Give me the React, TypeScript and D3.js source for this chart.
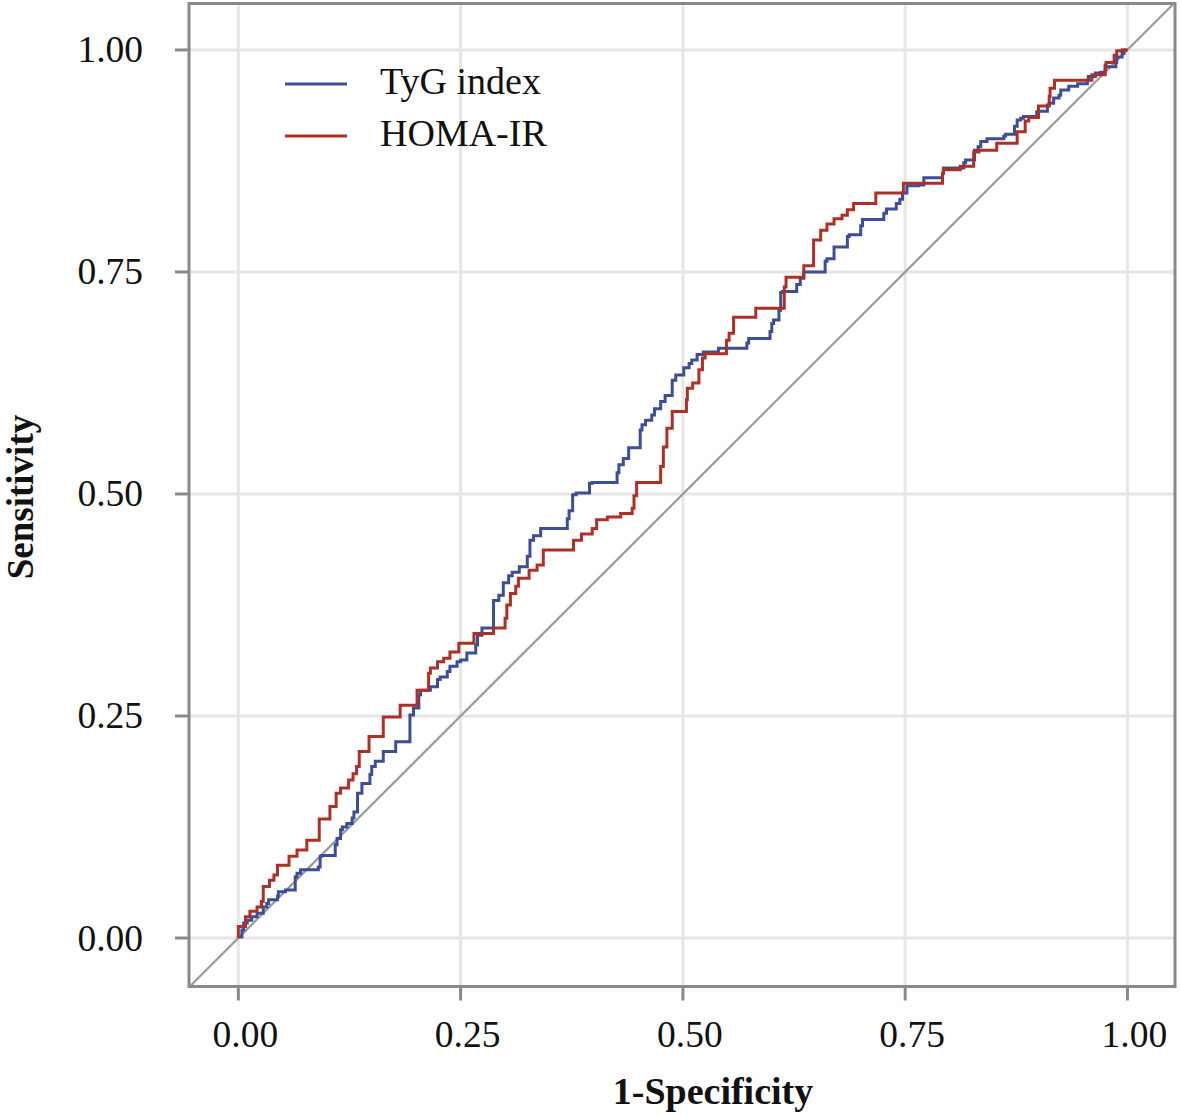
import React from "react";
import * as d3 from "d3";

const tickValues = [0, 0.25, 0.5, 0.75, 1];
const tickLabels = ["0.00", "0.25", "0.50", "0.75", "1.00"];
const seriesNames = ["TyG index", "HOMA-IR"];
const seriesColors = ["#3C4E98", "#AE2F26"];
const xTitle = "1-Specificity";
const yTitle = "Sensitivity";

const tygFpr = [0, 0.004, 0.006, 0.010, 0.015, 0.021, 0.028, 0.032, 0.034, 0.044, 0.045, 0.053, 0.064, 0.066, 0.070, 0.072, 0.090, 0.092, 0.094, 0.109, 0.111, 0.115, 0.117, 0.122, 0.128, 0.130, 0.134, 0.134, 0.139, 0.141, 0.148, 0.150, 0.154, 0.156, 0.163, 0.163, 0.177, 0.177, 0.193, 0.193, 0.197, 0.203, 0.205, 0.216, 0.224, 0.227, 0.235, 0.238, 0.246, 0.250, 0.257, 0.267, 0.269, 0.274, 0.276, 0.287, 0.287, 0.293, 0.298, 0.304, 0.308, 0.316, 0.325, 0.328, 0.332, 0.340, 0.349, 0.370, 0.372, 0.376, 0.380, 0.381, 0.395, 0.398, 0.426, 0.428, 0.433, 0.439, 0.441, 0.452, 0.454, 0.458, 0.465, 0.468, 0.475, 0.480, 0.488, 0.492, 0.501, 0.507, 0.510, 0.516, 0.523, 0.540, 0.540, 0.572, 0.574, 0.582, 0.598, 0.600, 0.602, 0.608, 0.610, 0.612, 0.628, 0.632, 0.636, 0.642, 0.660, 0.662, 0.670, 0.670, 0.685, 0.687, 0.700, 0.702, 0.703, 0.726, 0.729, 0.740, 0.744, 0.747, 0.752, 0.765, 0.771, 0.775, 0.792, 0.793, 0.816, 0.818, 0.828, 0.832, 0.835, 0.842, 0.861, 0.863, 0.873, 0.876, 0.880, 0.883, 0.898, 0.899, 0.910, 0.912, 0.917, 0.923, 0.925, 0.934, 0.944, 0.955, 0.956, 0.964, 0.970, 0.975, 0.976, 0.987, 0.988, 0.994, 0.996, 1];
const tygTpr = [0, 0.001, 0.009, 0.017, 0.020, 0.024, 0.028, 0.035, 0.039, 0.043, 0.047, 0.052, 0.054, 0.069, 0.073, 0.077, 0.077, 0.080, 0.092, 0.093, 0.105, 0.112, 0.122, 0.125, 0.129, 0.135, 0.142, 0.157, 0.163, 0.174, 0.174, 0.184, 0.193, 0.199, 0.199, 0.210, 0.210, 0.221, 0.221, 0.245, 0.251, 0.259, 0.274, 0.279, 0.283, 0.291, 0.294, 0.300, 0.306, 0.311, 0.313, 0.321, 0.330, 0.341, 0.349, 0.349, 0.373, 0.380, 0.386, 0.400, 0.408, 0.412, 0.418, 0.430, 0.448, 0.453, 0.461, 0.461, 0.472, 0.481, 0.499, 0.501, 0.501, 0.512, 0.513, 0.524, 0.533, 0.540, 0.552, 0.552, 0.572, 0.578, 0.583, 0.589, 0.596, 0.604, 0.611, 0.628, 0.634, 0.642, 0.647, 0.651, 0.657, 0.660, 0.664, 0.664, 0.670, 0.675, 0.675, 0.683, 0.692, 0.696, 0.707, 0.727, 0.728, 0.736, 0.743, 0.750, 0.750, 0.762, 0.765, 0.776, 0.778, 0.790, 0.792, 0.802, 0.809, 0.809, 0.816, 0.821, 0.827, 0.832, 0.839, 0.847, 0.848, 0.856, 0.856, 0.861, 0.867, 0.873, 0.876, 0.887, 0.891, 0.897, 0.900, 0.903, 0.905, 0.914, 0.921, 0.923, 0.925, 0.930, 0.931, 0.938, 0.940, 0.946, 0.949, 0.955, 0.959, 0.962, 0.966, 0.970, 0.974, 0.975, 0.981, 0.981, 0.986, 0.992, 0.996, 1];

const homaFpr = [0, 0.001, 0.008, 0.008, 0.013, 0.013, 0.021, 0.021, 0.026, 0.026, 0.028, 0.028, 0.035, 0.035, 0.040, 0.040, 0.044, 0.044, 0.057, 0.057, 0.066, 0.066, 0.077, 0.077, 0.091, 0.091, 0.093, 0.103, 0.103, 0.105, 0.110, 0.110, 0.115, 0.115, 0.124, 0.124, 0.129, 0.129, 0.133, 0.133, 0.136, 0.137, 0.147, 0.147, 0.163, 0.163, 0.173, 0.182, 0.182, 0.201, 0.201, 0.214, 0.216, 0.224, 0.231, 0.238, 0.248, 0.252, 0.265, 0.267, 0.287, 0.287, 0.300, 0.302, 0.306, 0.312, 0.315, 0.327, 0.336, 0.343, 0.353, 0.377, 0.377, 0.386, 0.398, 0.403, 0.415, 0.430, 0.432, 0.443, 0.445, 0.448, 0.460, 0.475, 0.478, 0.482, 0.488, 0.493, 0.504, 0.505, 0.511, 0.518, 0.522, 0.525, 0.533, 0.549, 0.552, 0.557, 0.563, 0.582, 0.582, 0.595, 0.614, 0.616, 0.623, 0.636, 0.636, 0.647, 0.647, 0.655, 0.662, 0.670, 0.679, 0.685, 0.692, 0.696, 0.717, 0.717, 0.748, 0.748, 0.765, 0.792, 0.793, 0.812, 0.812, 0.827, 0.833, 0.853, 0.876, 0.885, 0.889, 0.900, 0.902, 0.912, 0.913, 0.918, 0.923, 0.960, 0.962, 0.975, 0.976, 0.985, 0.988, 0.994, 1];
const homaTpr = [0, 0.013, 0.013, 0.024, 0.024, 0.030, 0.030, 0.035, 0.035, 0.041, 0.041, 0.058, 0.058, 0.065, 0.065, 0.071, 0.071, 0.082, 0.082, 0.092, 0.092, 0.099, 0.099, 0.110, 0.110, 0.122, 0.134, 0.134, 0.140, 0.148, 0.148, 0.163, 0.163, 0.169, 0.169, 0.178, 0.178, 0.185, 0.185, 0.193, 0.193, 0.210, 0.210, 0.227, 0.227, 0.245, 0.249, 0.249, 0.262, 0.262, 0.279, 0.279, 0.298, 0.304, 0.311, 0.315, 0.322, 0.332, 0.332, 0.343, 0.343, 0.349, 0.349, 0.360, 0.375, 0.388, 0.396, 0.405, 0.414, 0.420, 0.437, 0.437, 0.443, 0.448, 0.455, 0.461, 0.471, 0.474, 0.478, 0.478, 0.484, 0.498, 0.513, 0.513, 0.531, 0.553, 0.574, 0.593, 0.593, 0.606, 0.619, 0.625, 0.640, 0.653, 0.658, 0.658, 0.673, 0.681, 0.699, 0.699, 0.703, 0.709, 0.709, 0.733, 0.744, 0.744, 0.757, 0.757, 0.779, 0.786, 0.797, 0.804, 0.810, 0.814, 0.820, 0.827, 0.827, 0.839, 0.839, 0.844, 0.850, 0.850, 0.861, 0.865, 0.869, 0.869, 0.885, 0.887, 0.895, 0.908, 0.920, 0.924, 0.937, 0.937, 0.948, 0.957, 0.966, 0.966, 0.972, 0.972, 0.983, 0.986, 0.994, 0.999, 1];

const W = 1180;
const H = 1115;
const panel = { left: 189, right: 1175, top: 3.5, bottom: 986.5 };
const FONT = "'Liberation Serif', 'Times New Roman', serif";

export default function App() {
  const x = d3.scaleLinear().domain([-0.0555, 1.0535]).range([panel.left, panel.right]);
  const y = d3.scaleLinear().domain([-0.0546, 1.0523]).range([panel.bottom, panel.top]);

  const series = [
    { fpr: tygFpr, tpr: tygTpr },
    { fpr: homaFpr, tpr: homaTpr },
  ];

  const line = d3
    .line<[number, number]>()
    .x((d) => x(d[0]))
    .y((d) => y(d[1]))
    .curve(d3.curveStepBefore);

  const diag = d3
    .line<number>()
    .x((d) => x(d))
    .y((d) => y(d));
  const diagDomain = [x.domain()[0], Math.min(x.domain()[1], y.domain()[1])];

  return (
    <div style={{ position: "absolute", left: 0, top: 0 }}>
      <svg width={W} height={H} style={{ display: "block", background: "#fff" }}>
        <defs>
          <clipPath id="panelClip">
            <rect x={panel.left} y={panel.top} width={panel.right - panel.left} height={panel.bottom - panel.top} />
          </clipPath>
        </defs>
        <rect x={0} y={0} width={W} height={H} fill="#fff" />
        {tickValues.map((t, i) => (
          <line key={"gx" + i} x1={x(t)} x2={x(t)} y1={panel.top} y2={panel.bottom} stroke="#E6E6E6" strokeWidth={3} />
        ))}
        {tickValues.map((t, i) => (
          <line key={"gy" + i} y1={y(t)} y2={y(t)} x1={panel.left} x2={panel.right} stroke="#E6E6E6" strokeWidth={3} />
        ))}
        <g clipPath="url(#panelClip)">
          <path d={diag(diagDomain) || ""} stroke="#9A9A9A" strokeWidth={2.2} fill="none" />
          {series.map((s, si) => (
            <path
              key={"s" + si}
              d={line(s.fpr.map((f, i) => [f, s.tpr[i]] as [number, number])) || ""}
              stroke={seriesColors[si]}
              strokeWidth={3}
              fill="none"
              strokeLinejoin="miter"
            />
          ))}
        </g>
        <rect
          x={panel.left}
          y={panel.top}
          width={panel.right - panel.left}
          height={panel.bottom - panel.top}
          fill="none"
          stroke="#868A8C"
          strokeWidth={3}
        />
        {tickValues.map((t, i) => (
          <g key={"tx" + i}>
            <line x1={x(t)} x2={x(t)} y1={panel.bottom} y2={panel.bottom + 14} stroke="#868A8C" strokeWidth={3} />
            <text x={x(t) + 7} y={1047} textAnchor="middle" fontFamily={FONT} fontSize={37.5} fill="#111">
              {tickLabels[i]}
            </text>
          </g>
        ))}
        {tickValues.map((t, i) => (
          <g key={"ty" + i}>
            <line x1={panel.left - 14} x2={panel.left} y1={y(t)} y2={y(t)} stroke="#868A8C" strokeWidth={3} />
            <text x={143} y={y(t) + 12.5} textAnchor="end" fontFamily={FONT} fontSize={37.5} fill="#111">
              {tickLabels[i]}
            </text>
          </g>
        ))}
        <text x={713} y={1104} textAnchor="middle" fontFamily={FONT} fontSize={38} fontWeight="bold" fill="#111">
          {xTitle}
        </text>
        <text
          transform={`translate(33, 497) rotate(-90)`}
          textAnchor="middle"
          fontFamily={FONT}
          fontSize={37}
          fontWeight="bold"
          fill="#111"
        >
          {yTitle}
        </text>
        {seriesNames.map((n, i) => (
          <g key={"lg" + i} transform={`translate(0, ${84 + i * 52})`}>
            <line x1={285} x2={347} y1={0} y2={0} stroke={seriesColors[i]} strokeWidth={3} />
            <text x={380} y={9.5} fontFamily={FONT} fontSize={38} fill="#111">
              {n}
            </text>
          </g>
        ))}
      </svg>
    </div>
  );
}
